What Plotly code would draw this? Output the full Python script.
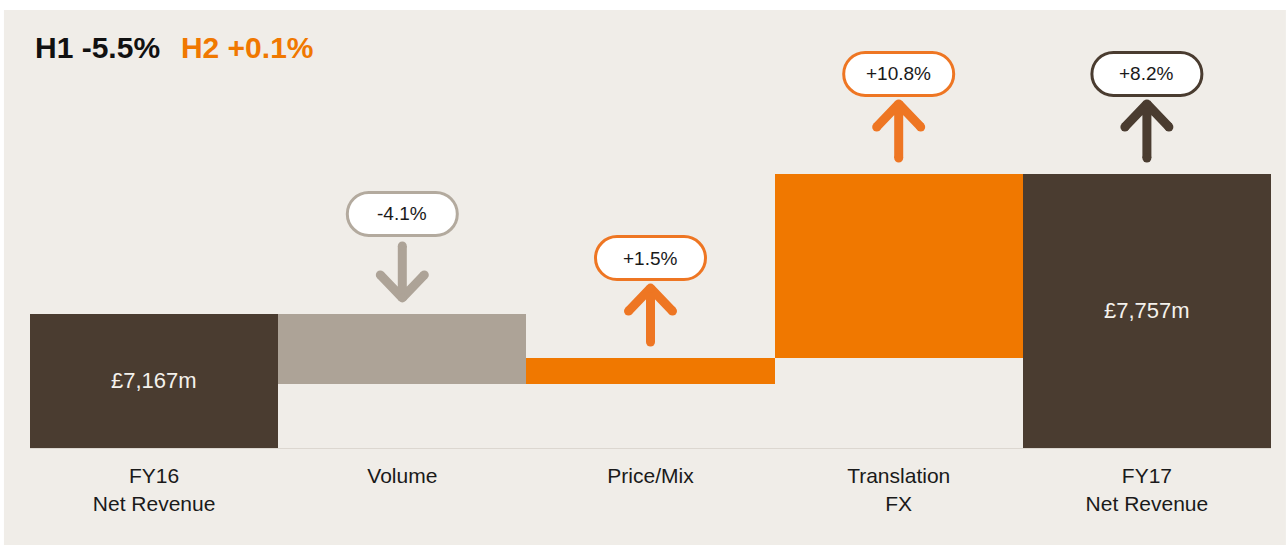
import plotly.graph_objects as go
import numpy as np

# data
categories = ["FY16<br>Net Revenue", "Volume", "Price/Mix", "Translation<br>FX", "FY17<br>Net Revenue"]
measures = ["absolute", "relative", "relative", "relative", "total"]
values = [7167, -294, 108, 776, 0]
bar_text = ["£7,167m", "", "", "", "£7,757m"]
pct_labels = ["", "-4.1%", "+1.5%", "+10.8%", "+8.2%"]
directions = [None, "down", "up", "up", "up"]

BG = "#f0ede8"
DARK = "#4a3c30"
TAUPE = "#ada397"
ORANGE = "#f07800"
ARROW_ORANGE = "#ee7623"
pill_colors = [None, "#b3aa9e", ARROW_ORANGE, ARROW_ORANGE, DARK]
arrow_colors = [None, TAUPE, ARROW_ORANGE, ARROW_ORANGE, DARK]

Y_MIN, Y_MAX = 6602, 8448
FONT = "Liberation Sans, Arial, sans-serif"

# tops of each bar (for placing the pills/arrows)
tops = []
run = 0
for m, v in zip(measures, values):
    if m == "absolute":
        run = v
        tops.append(v)
    elif m == "relative":
        tops.append(max(run, run + v))
        run += v
    else:
        tops.append(run)

fig = go.Figure(go.Waterfall(
    x=categories, y=values, measure=measures,
    totals=dict(marker=dict(color=DARK)),
    increasing=dict(marker=dict(color=ORANGE)),
    decreasing=dict(marker=dict(color=TAUPE)),
    connector=dict(visible=False),
    hoverinfo="skip",
))


def pill_path(w, h, cy):
    r = h / 2
    k = 0.5523 * r
    lx, rx = -w / 2 + r, w / 2 - r
    t, b = cy + r, cy - r
    return (f"M {lx},{t} L {rx},{t} C {rx + k},{t} {rx + r},{cy + k} {rx + r},{cy} "
            f"C {rx + r},{cy - k} {rx + k},{b} {rx},{b} L {lx},{b} "
            f"C {lx - k},{b} {lx - r},{cy - k} {lx - r},{cy} "
            f"C {lx - r},{cy + k} {lx - k},{t} {lx},{t} Z")


def anchored(cat, top, **kw):
    return dict(xref="x", yref="y", xsizemode="pixel", ysizemode="pixel",
                xanchor=cat, yanchor=top, **kw)


LW = 9
for cat, top, lab, d, pc, ac in zip(categories, tops, pct_labels, directions, pill_colors, arrow_colors):
    if not lab:
        continue
    fig.add_shape(**anchored(cat, top, type="path", path=pill_path(110, 43, 100),
                             fillcolor="white", line=dict(color=pc, width=3)))
    fig.add_annotation(x=cat, y=top, yshift=100, text=lab, showarrow=False,
                       font=dict(family=FONT, size=19, color="#1a1a1a"))
    if d == "up":
        tail, tip, wing = 16, 70, 47
    else:
        tail, tip, wing = 68, 16, 39
    path = f"M 0,{tail} L 0,{tip} M 0,{tip} L -22,{wing} M 0,{tip} L 22,{wing}"
    fig.add_shape(**anchored(cat, top, type="path", path=path, line=dict(color=ac, width=LW)))
    for px, py in [(0, tail), (0, tip), (-22, wing), (22, wing)]:
        fig.add_shape(**anchored(cat, top, type="circle",
                                 x0=px - LW / 2, x1=px + LW / 2, y0=py - LW / 2, y1=py + LW / 2,
                                 fillcolor=ac, line=dict(width=0)))

# value labels centred in the visible part of the total bars
for cat, top, t in zip(categories, tops, bar_text):
    if t:
        fig.add_annotation(x=cat, y=(top + Y_MIN) / 2, text=t, showarrow=False,
                           font=dict(family=FONT, size=22, color="#f4f1ec"))

# beige panel
fig.add_shape(type="rect", xref="paper", yref="paper", x0=-0.021, x1=1.012, y0=-0.3, y1=1,
              fillcolor=BG, line=dict(width=0), layer="below")

title_text = ("<b>H1 -5.5%&nbsp;&nbsp;<span style='font-size:15px'>&nbsp;</span>"
              "<span style='color:#f07800'>H2 +0.1%</span></b>")

fig.update_layout(
    width=1287, height=545,
    margin=dict(l=30, r=16, t=10, b=97),
    paper_bgcolor="white", plot_bgcolor="rgba(0,0,0,0)",
    showlegend=False,
    waterfallgap=0,
    title=dict(text=title_text,
               x=35 / 1287, xanchor="left", y=1 - 47 / 545, yanchor="middle",
               font=dict(family=FONT, size=30, color="#111111")),
    font=dict(family=FONT),
    xaxis=dict(showline=True, linecolor="#dcd7d0", linewidth=1, showgrid=False,
               ticks="outside", ticklen=9, tickcolor="rgba(0,0,0,0)",
               tickfont=dict(family=FONT, size=21, color="#1a1a1a")),
    yaxis=dict(range=[Y_MIN, Y_MAX], visible=False, showgrid=False, zeroline=False),
)

fig.write_html("out.html", config=dict(displayModeBar=False),
               post_script="document.body.style.margin='0px';")
